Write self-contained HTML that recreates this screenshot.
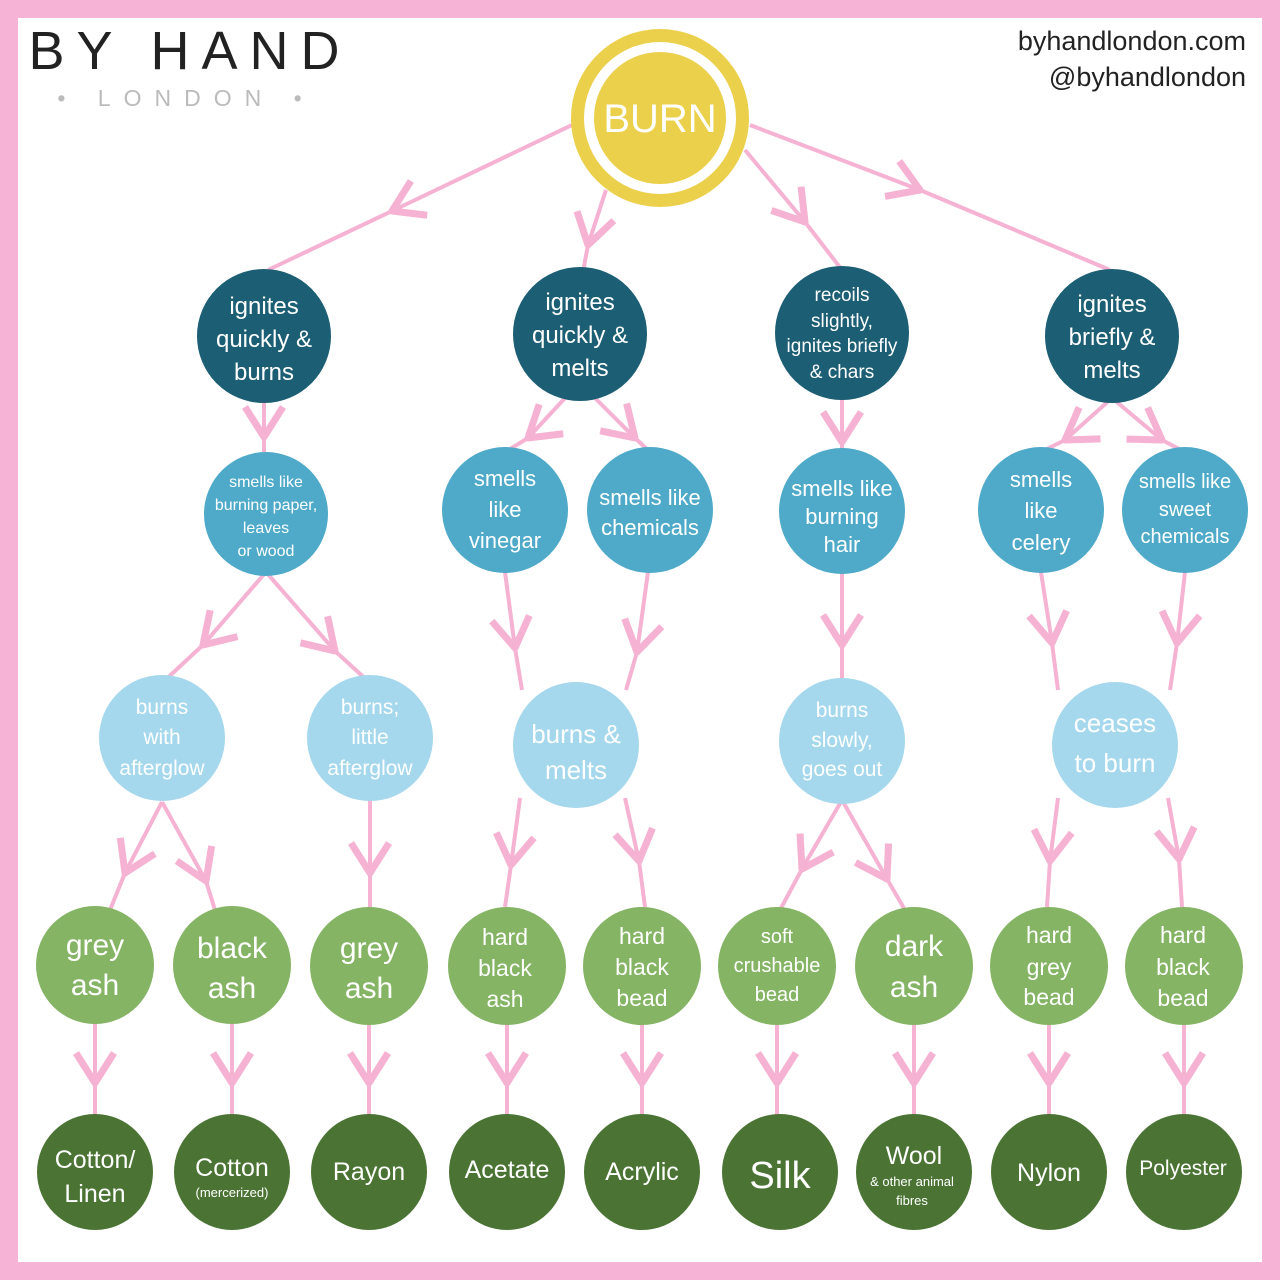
<!DOCTYPE html>
<html><head><meta charset="utf-8"><style>
html,body{margin:0;padding:0;background:#fff}
svg{display:block}
text{font-family:"Liberation Sans",sans-serif;fill:#fff;text-anchor:middle}
</style></head><body>
<svg width="1280" height="1280" viewBox="0 0 1280 1280" xmlns="http://www.w3.org/2000/svg">
<defs>
<marker id="ch" markerUnits="userSpaceOnUse" markerWidth="70" markerHeight="70" refX="0" refY="0" viewBox="-35 -35 70 70" orient="auto" overflow="visible">
<path d="M-30,-19 L0,0 L-30,19" fill="none" stroke="#f5b2d3" stroke-width="7" stroke-linejoin="round"/>
</marker>
</defs>
<rect x="0" y="0" width="1280" height="1280" fill="#f7b3d5"/>
<rect x="18" y="18" width="1244" height="1244" fill="#fff"/>
<text x="190" y="69" style="fill:#222;font-size:54px;letter-spacing:12px">BY HAND</text>
<text x="186" y="106" style="fill:#bbb;font-size:23px;letter-spacing:13px">• LONDON •</text>
<text x="1246" y="50" style="fill:#222;font-size:27px;text-anchor:end">byhandlondon.com</text>
<text x="1246" y="86" style="fill:#222;font-size:27px;text-anchor:end">@byhandlondon</text>

<g fill="none" stroke="#f5b2d3" stroke-width="4" marker-mid="url(#ch)">
<polyline points="572,125 392,211 268,270"/>
<polyline points="606,190 588,245 583,272"/>
<polyline points="745,150 805,222 842,270"/>
<polyline points="750,125 920,190 1110,270"/>
<polyline points="264,400 264,437 264,452"/>
<polyline points="565,398 528,438 505,452"/>
<polyline points="595,398 635,438 650,452"/>
<polyline points="842,398 842,442 842,452"/>
<polyline points="1112,398 1065,440 1041,452"/>
<polyline points="1112,398 1162,440 1185,452"/>
<polyline points="266,572 203,645 162,683"/>
<polyline points="266,572 335,651 370,683"/>
<polyline points="505,572 515,648 522,690"/>
<polyline points="648,572 637,652 626,690"/>
<polyline points="842,572 842,645 842,680"/>
<polyline points="1041,572 1052,643 1058,690"/>
<polyline points="1185,572 1177,643 1170,690"/>
<polyline points="162,802 125,873 110,910"/>
<polyline points="162,802 206,881 215,910"/>
<polyline points="370,800 370,873 370,907"/>
<polyline points="520,798 511,865 505,907"/>
<polyline points="625,798 639,861 645,907"/>
<polyline points="842,800 802,869 780,910"/>
<polyline points="842,800 887,879 905,910"/>
<polyline points="1058,798 1050,861 1047,907"/>
<polyline points="1168,798 1179,859 1182,907"/>
<polyline points="95,1023 95,1083 95,1115"/>
<polyline points="232,1023 232,1083 232,1115"/>
<polyline points="369,1023 369,1083 369,1115"/>
<polyline points="507,1023 507,1083 507,1115"/>
<polyline points="642,1023 642,1083 642,1115"/>
<polyline points="777,1023 777,1083 777,1115"/>
<polyline points="914,1023 914,1083 914,1115"/>
<polyline points="1049,1023 1049,1083 1049,1115"/>
<polyline points="1184,1023 1184,1083 1184,1115"/>
</g>

<circle cx="660" cy="118" r="89" fill="#ebd04c"/>
<circle cx="660" cy="118" r="76" fill="#fff"/>
<circle cx="660" cy="118" r="66" fill="#ebd04c"/>
<text x="660" y="132" style="font-size:40px">BURN</text>

<g fill="#1c5e73">
<circle cx="264" cy="336" r="67"/><circle cx="580" cy="334" r="67"/>
<circle cx="842" cy="333" r="67"/><circle cx="1112" cy="336" r="67"/>
</g>
<g style="font-size:24px">
<text x="264" y="314">ignites</text><text x="264" y="347">quickly &amp;</text><text x="264" y="380">burns</text>
<text x="580" y="310">ignites</text><text x="580" y="343">quickly &amp;</text><text x="580" y="376">melts</text>
<text x="1112" y="312">ignites</text><text x="1112" y="345">briefly &amp;</text><text x="1112" y="378">melts</text>
</g>
<g style="font-size:19px">
<text x="842" y="301">recoils</text><text x="842" y="327">slightly,</text><text x="842" y="352">ignites briefly</text><text x="842" y="378">&amp; chars</text>
</g>

<g fill="#4eaac8">
<circle cx="266" cy="514" r="62"/><circle cx="505" cy="510" r="63"/><circle cx="650" cy="510" r="63"/>
<circle cx="842" cy="511" r="63"/><circle cx="1041" cy="510" r="63"/><circle cx="1185" cy="510" r="63"/>
</g>
<g style="font-size:16px">
<text x="266" y="487">smells like</text><text x="266" y="510">burning paper,</text><text x="266" y="533">leaves</text><text x="266" y="556">or wood</text>
</g>
<g style="font-size:22px">
<text x="505" y="486">smells</text><text x="505" y="517">like</text><text x="505" y="548">vinegar</text>
<text x="650" y="505">smells like</text><text x="650" y="535">chemicals</text>
<text x="842" y="496">smells like</text><text x="842" y="524">burning</text><text x="842" y="552">hair</text>
<text x="1041" y="487">smells</text><text x="1041" y="518">like</text><text x="1041" y="550">celery</text>
</g>
<g style="font-size:20px">
<text x="1185" y="488">smells like</text><text x="1185" y="516">sweet</text><text x="1185" y="543">chemicals</text>
</g>

<g fill="#a5d8ec">
<circle cx="162" cy="738" r="63"/><circle cx="370" cy="738" r="63"/><circle cx="576" cy="745" r="63"/>
<circle cx="842" cy="741" r="63"/><circle cx="1115" cy="745" r="63"/>
</g>
<g style="font-size:21px">
<text x="162" y="714">burns</text><text x="162" y="744">with</text><text x="162" y="775">afterglow</text>
<text x="370" y="714">burns;</text><text x="370" y="744">little</text><text x="370" y="775">afterglow</text>
<text x="842" y="717">burns</text><text x="842" y="747">slowly,</text><text x="842" y="776">goes out</text>
</g>
<g style="font-size:26px">
<text x="576" y="743">burns &amp;</text><text x="576" y="779">melts</text>
<text x="1115" y="732">ceases</text><text x="1115" y="772">to burn</text>
</g>

<g fill="#85b465">
<circle cx="95" cy="965" r="59"/><circle cx="232" cy="965" r="59"/><circle cx="369" cy="966" r="59"/>
<circle cx="507" cy="966" r="59"/><circle cx="642" cy="966" r="59"/><circle cx="777" cy="966" r="59"/>
<circle cx="914" cy="966" r="59"/><circle cx="1049" cy="966" r="59"/><circle cx="1184" cy="966" r="59"/>
</g>
<g style="font-size:30px">
<text x="95" y="955">grey</text><text x="95" y="995">ash</text>
<text x="232" y="958">black</text><text x="232" y="998">ash</text>
<text x="369" y="958">grey</text><text x="369" y="998">ash</text>
<text x="914" y="956">dark</text><text x="914" y="997">ash</text>
</g>
<g style="font-size:23px">
<text x="505" y="945">hard</text><text x="505" y="976">black</text><text x="505" y="1007">ash</text>
<text x="642" y="944">hard</text><text x="642" y="975">black</text><text x="642" y="1006">bead</text>
<text x="1049" y="943">hard</text><text x="1049" y="975">grey</text><text x="1049" y="1005">bead</text>
<text x="1183" y="943">hard</text><text x="1183" y="975">black</text><text x="1183" y="1006">bead</text>
</g>
<g style="font-size:20px">
<text x="777" y="943">soft</text><text x="777" y="972">crushable</text><text x="777" y="1001">bead</text>
</g>

<g fill="#4b7434">
<circle cx="95" cy="1172" r="58"/><circle cx="232" cy="1172" r="58"/><circle cx="369" cy="1172" r="58"/>
<circle cx="507" cy="1172" r="58"/><circle cx="642" cy="1172" r="58"/><circle cx="780" cy="1172" r="58"/>
<circle cx="914" cy="1172" r="58"/><circle cx="1049" cy="1172" r="58"/><circle cx="1184" cy="1172" r="58"/>
</g>
<g style="font-size:25px">
<text x="95" y="1168">Cotton/</text><text x="95" y="1202">Linen</text>
<text x="232" y="1176">Cotton</text>
<text x="369" y="1180">Rayon</text>
<text x="507" y="1178">Acetate</text>
<text x="642" y="1180">Acrylic</text>
<text x="1049" y="1181">Nylon</text>
<text x="914" y="1164">Wool</text>
</g>
<text x="232" y="1197" style="font-size:13px">(mercerized)</text>
<text x="780" y="1188" style="font-size:38px">Silk</text>
<text x="1183" y="1175" style="font-size:21px">Polyester</text>
<text x="912" y="1186" style="font-size:13px">&amp; other animal</text>
<text x="912" y="1205" style="font-size:13px">fibres</text>
</svg>
</body></html>
